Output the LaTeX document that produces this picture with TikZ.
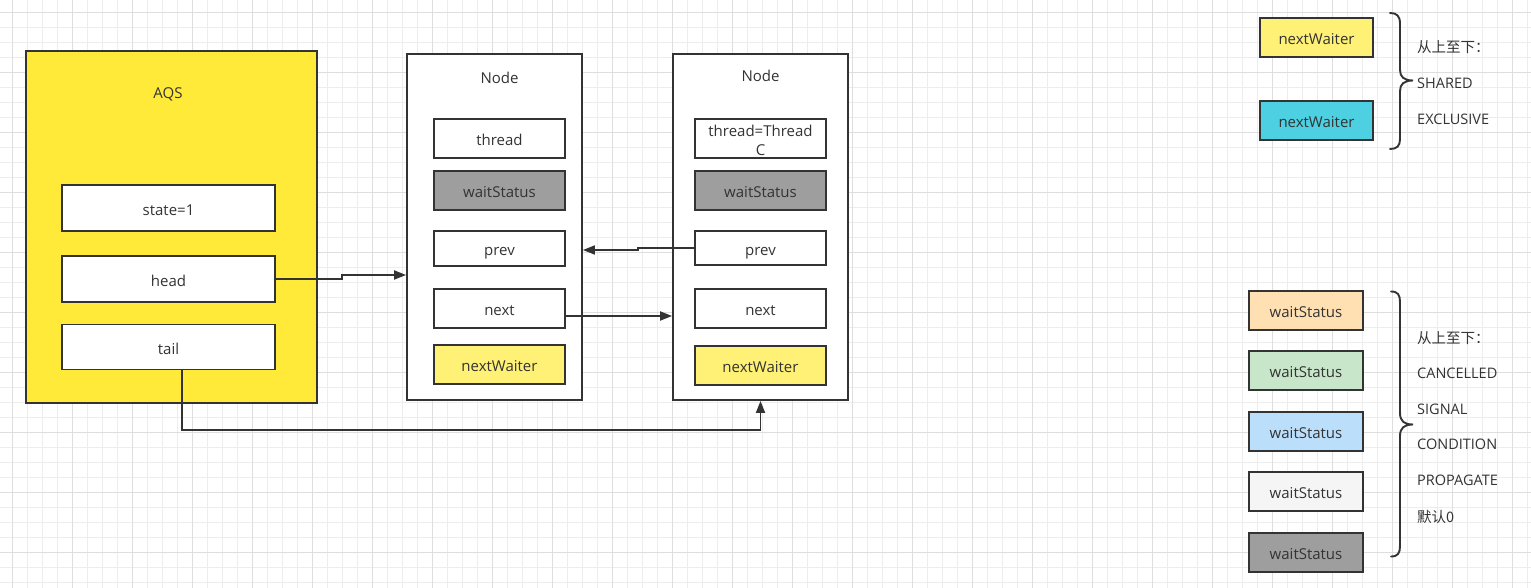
\documentclass[tikz,border=0pt]{standalone}
\usepackage{fontspec}
\setmainfont{Open Sans}
\newfontfamily\cjk{Noto Sans CJK SC}
\usetikzlibrary{arrows.meta}
\definecolor{ink}{HTML}{333333}
\definecolor{gridminor}{HTML}{EDEDED}
\definecolor{gridmajor}{HTML}{DEDEDE}
\definecolor{aqsyellow}{HTML}{FFEA3A}
\definecolor{waiterYellow}{HTML}{FFF176}
\definecolor{waiterCyan}{HTML}{4DD0E1}
\definecolor{wsOrange}{HTML}{FFE0B2}
\definecolor{wsGreen}{HTML}{C8E6C9}
\definecolor{wsBlue}{HTML}{BBDEFB}
\definecolor{wsLight}{HTML}{F5F5F5}
\definecolor{wsGray}{HTML}{9E9E9E}
\tikzset{
  field/.style={draw=ink, line width=1.9pt, fill=white, inner sep=0pt,
    text=ink, font=\fontsize{15}{17}\selectfont, align=center,
    text height=15pt, text depth=1pt},
  container/.style={draw=ink, line width=1.9pt, inner sep=0pt},
  caption/.style={text=ink, font=\fontsize{15}{17}\selectfont, inner sep=0pt,
    text height=15pt, text depth=1pt},
  note/.style={text=ink, font=\fontsize{14.5}{17}\selectfont, inner sep=0pt, anchor=west,
    text height=14pt, text depth=2pt},
  link/.style={draw=ink, line width=1.9pt, -{Triangle[length=12pt,width=9pt]}},
  bracket/.style={draw=ink, line width=1.9pt, line cap=round},
}
\begin{document}
\begin{tikzpicture}[x=1pt, y=-1pt]
\useasboundingbox (0,0) rectangle (1531,588);
\fill[white] (0,0) rectangle (1531,588);
% background grid
\foreach \g in {-3,12,...,1540} \draw[gridminor, line width=0.8pt] (\g,0) -- (\g,588);
\foreach \g in {-3,12,...,600} \draw[gridminor, line width=0.8pt] (0,\g) -- (1531,\g);
\foreach \g in {12,72,...,1540} \draw[gridmajor, line width=0.9pt] (\g,0) -- (\g,588);
\foreach \g in {12,72,...,600} \draw[gridmajor, line width=0.9pt] (0,\g) -- (1531,\g);

% AQS
\node[container, fill=aqsyellow, minimum width=291pt, minimum height=352pt] (aqs) at (171.5,227) {};
\node[caption] (aqslabel) at (168,92) {AQS};
\node[field, minimum width=213pt, minimum height=46pt] (state) at (168.5,208) {state=1};
\node[field, minimum width=213pt, minimum height=46pt] (head) at (168.5,279) {head};
\node[field, minimum width=213pt, minimum height=45pt] (tail) at (168.5,347) {tail};

% first Node
\node[container, fill=white, minimum width=175pt, minimum height=346pt] (n1) at (494.5,227) {};
\node[caption] (n1label) at (499.5,77) {Node};
\node[field, minimum width=131pt, minimum height=39pt] (th1) at (499.5,138.5) {thread};
\node[field, fill=wsGray, minimum width=131pt, minimum height=39pt] (ws1) at (499.5,190.5) {waitStatus};
\node[field, minimum width=131pt, minimum height=35pt] (pv1) at (499.5,248.5) {prev};
\node[field, minimum width=131pt, minimum height=39pt] (nx1) at (499.5,308.5) {next};
\node[field, fill=waiterYellow, minimum width=131pt, minimum height=39pt] (nw1) at (499.5,364.5) {nextWaiter};

% second Node
\node[container, fill=white, minimum width=175pt, minimum height=346pt] (n2) at (760.5,227) {};
\node[caption] (n2label) at (760.5,75) {Node};
\node[field, minimum width=131pt, minimum height=39pt, text height=, text depth=,
  font=\fontsize{15}{19.5}\selectfont] (th2) at (760.5,138.5) {\rule{0pt}{15pt}thread=Thread\\C};
\node[field, fill=wsGray, minimum width=131pt, minimum height=39pt] (ws2) at (760.5,190.5) {waitStatus};
\node[field, minimum width=131pt, minimum height=34pt] (pv2) at (760.5,248) {prev};
\node[field, minimum width=131pt, minimum height=39pt] (nx2) at (760.5,308.5) {next};
\node[field, fill=waiterYellow, minimum width=131pt, minimum height=39pt] (nw2) at (760.5,365.5) {nextWaiter};

% pointers
\draw[link] (head.east) -- (342,279) -- (342,275) -- (n1.west |- {(0,275)});
\draw[link] (pv2.west) -- (638,248) -- (638,250) -- (n1.east |- {(0,250)});
\draw[link] ([yshift=-7.5pt]nx1.east) -- ([yshift=-7.5pt]nx1.east -| n2.west);
\draw[link] ([xshift=13.5pt]tail.south) |- (760.5,430) -- (n2.south);

% legend: nextWaiter modes
\node[field, fill=waiterYellow, minimum width=113pt, minimum height=39pt] (lw1) at (1316.5,37.5) {nextWaiter};
\node[field, fill=waiterCyan, minimum width=113pt, minimum height=39pt] (lw2) at (1316.5,120.5) {nextWaiter};
\draw[bracket] (1390,13) .. controls (1397,13) and (1400,16) .. (1400,24)
  -- (1400,70) .. controls (1400,77) and (1404,80.5) .. (1413,80.5)
  .. controls (1404,80.5) and (1400,84) .. (1400,91)
  -- (1400,139) .. controls (1400,146) and (1397,149) .. (1390,149);
\node[note] (lt1) at (1417,47) {\cjk 从上至下：};
\node[note] (lt2) at (1417,83) {SHARED};
\node[note] (lt3) at (1417,119) {EXCLUSIVE};

% legend: waitStatus values
\node[field, fill=wsOrange, minimum width=114pt, minimum height=39pt] (ls1) at (1306,310.5) {waitStatus};
\node[field, fill=wsGreen, minimum width=114pt, minimum height=39pt] (ls2) at (1306,370.5) {waitStatus};
\node[field, fill=wsBlue, minimum width=114pt, minimum height=39pt] (ls3) at (1306,431.5) {waitStatus};
\node[field, fill=wsLight, minimum width=114pt, minimum height=39pt] (ls4) at (1306,491.5) {waitStatus};
\node[field, fill=wsGray, minimum width=114pt, minimum height=39pt] (ls5) at (1306,552.5) {waitStatus};
\draw[bracket] (1391,291.5) .. controls (1398,291.5) and (1400,295) .. (1400,302)
  -- (1400,413) .. controls (1400,421) and (1404,424.5) .. (1413,424.5)
  .. controls (1404,424.5) and (1400,428) .. (1400,436)
  -- (1400,546) .. controls (1400,553) and (1398,556.5) .. (1391,556.5);
\node[note] (ld0) at (1417,337) {\cjk 从上至下：};
\node[note] (ld1) at (1417,372) {CANCELLED};
\node[note] (ld2) at (1417,408) {SIGNAL};
\node[note] (ld3) at (1417,443.5) {CONDITION};
\node[note] (ld4) at (1417,479.5) {PROPAGATE};
\node[note] (ld5) at (1417,516) {\cjk 默认0};
\end{tikzpicture}
\end{document}
